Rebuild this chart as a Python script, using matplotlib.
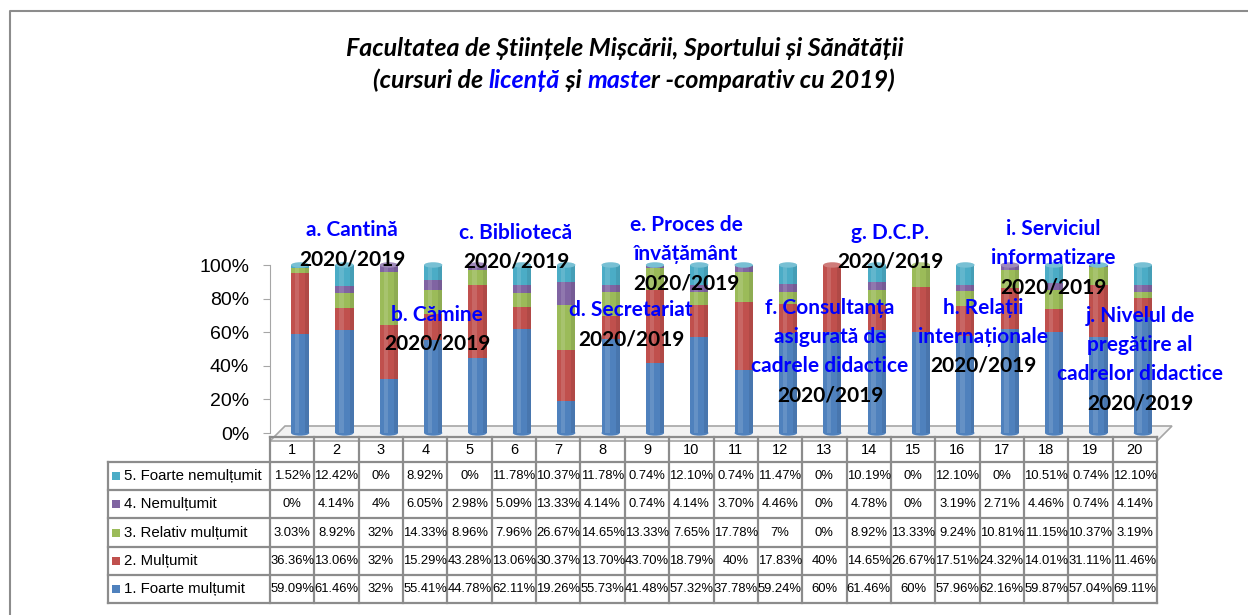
import matplotlib.pyplot as plt
from matplotlib.patches import Ellipse, Polygon, Rectangle

# values (percent)
columns = [str(i) for i in range(1, 21)]
series_names = ['5. Foarte nemulțumit', '4. Nemulțumit', '3. Relativ mulțumit',
                '2. Mulțumit', '1. Foarte mulțumit']
foarte_nemultumit = [1.52, 12.42, 0, 8.92, 0, 11.78, 10.37, 11.78, 0.74, 12.10,
                     0.74, 11.47, 0, 10.19, 0, 12.10, 0, 10.51, 0.74, 12.10]
nemultumit = [0, 4.14, 4, 6.05, 2.98, 5.09, 13.33, 4.14, 0.74, 4.14,
              3.70, 4.46, 0, 4.78, 0, 3.19, 2.71, 4.46, 0.74, 4.14]
relativ_multumit = [3.03, 8.92, 32, 14.33, 8.96, 7.96, 26.67, 14.65, 13.33, 7.65,
                    17.78, 7, 0, 8.92, 13.33, 9.24, 10.81, 11.15, 10.37, 3.19]
multumit = [36.36, 13.06, 32, 15.29, 43.28, 13.06, 30.37, 13.70, 43.70, 18.79,
            40, 17.83, 40, 14.65, 26.67, 17.51, 24.32, 14.01, 31.11, 11.46]
foarte_multumit = [59.09, 61.46, 32, 55.41, 44.78, 62.11, 19.26, 55.73, 41.48, 57.32,
                   37.78, 59.24, 60, 61.46, 60, 57.96, 62.16, 59.87, 57.04, 69.11]

y_ticks = [0, 20, 40, 60, 80, 100]

# section captions written over the bars
captions = [
    ['a. Cantină'],
    ['b. Cămine'],
    ['c. Bibliotecă'],
    ['d. Secretariat'],
    ['e. Proces de', 'învățământ'],
    ['f. Consultanța', 'asigurată de', 'cadrele didactice'],
    ['g. D.C.P.'],
    ['h. Relații', 'internaționale'],
    ['i. Serviciul', 'informatizare'],
    ['j. Nivelul de', 'pregătire al', 'cadrelor didactice'],
]
year_label = '2020/2019'

colors = ['#4BACC6', '#8064A2', '#9BBB59', '#C0504D', '#4F81BD']
values = [foarte_nemultumit, nemultumit, relativ_multumit, multumit, foarte_multumit]

plt.rcParams['font.family'] = ['Lato', 'DejaVu Sans']

W, H = 1248, 615
fig = plt.figure(figsize=(W / 100, H / 100), dpi=100)

def fx(px):
    return px / W

def fy(py):
    return 1 - py / H

# overlay in pixel coordinates for frame, floor and table
ov = fig.add_axes([0, 0, 1, 1])
ov.set_xlim(0, W)
ov.set_ylim(H, 0)
ov.axis('off')
ov.plot([10, 10, W], [H, 11, 11], color='#8c8c8c', lw=1.5)

# 3D-ish floor
left, right = 270, 1157
ov.add_patch(Polygon([(left, 441), (right, 441), (right + 15, 426), (left + 15, 426)],
                     closed=True, facecolor='#f2f2f2', edgecolor='#a6a6a6', lw=1.2))

# bar chart axes
ax = fig.add_axes([fx(left), fy(433), fx(right - left), fy(265) - fy(433)])
ax.patch.set_alpha(0)
n = len(columns)
bw = 0.41
xs = [i + 0.18 for i in range(n)]
bottoms = [0] * n
for vals, col in zip(values[::-1], colors[::-1]):
    ax.bar(xs, vals, width=bw, bottom=bottoms, color=col, edgecolor='none', clip_on=False, zorder=2)
    bottoms = [b + v for b, v in zip(bottoms, vals)]
# cylinder shading: light band left of centre, darker right edge
ax.bar([x - 0.07 for x in xs], bottoms, width=0.1, color='white', alpha=0.13,
       edgecolor='none', zorder=2.5, clip_on=False)
ax.bar([x + 0.16 for x in xs], bottoms, width=0.09, color='black', alpha=0.08,
       edgecolor='none', zorder=2.5, clip_on=False)
for i, (x, top) in enumerate(zip(xs, bottoms)):
    # cap takes the colour of the highest non-empty segment
    cap = next(c for vals, c in zip(values, colors) if vals[i] > 0)
    ax.add_patch(Ellipse((x, top), bw, 3.2, facecolor=cap, edgecolor='none', zorder=3, clip_on=False))
    ax.add_patch(Ellipse((x, top), bw, 3.2, facecolor='white', alpha=0.25, edgecolor='none', zorder=3, clip_on=False))
    ax.add_patch(Ellipse((x, 0), bw, 3.2, facecolor=colors[4], edgecolor='none', zorder=1, clip_on=False))
ax.set_xlim(-0.5, n - 0.5)
ax.set_ylim(0, 100)
ax.set_yticks(y_ticks)
ax.set_yticklabels([f'{t}%' for t in y_ticks], fontsize=14, family=['Liberation Sans'])
ax.set_xticks([])
for s in ['top', 'right', 'bottom']:
    ax.spines[s].set_visible(False)
ax.spines['left'].set_color('#a6a6a6')
ax.spines['left'].set_bounds(0, 100)
ax.tick_params(axis='y', colors='#a6a6a6', labelcolor='black', length=5, pad=10)

# data table
col_w = (right - left) / n
head_top, head_bot = 437, 462
row_h = (603 - head_bot) / len(series_names)
lab_left = 108
grid = dict(color='#8c8c8c', lw=1.6)

def fmt(v):
    return f'{int(v)}%' if v == int(v) else f'{v:.2f}%'

for i, c in enumerate(columns):
    ov.text(left + col_w * (i + 0.5), (head_top + head_bot) / 2 + 1, c,
            ha='center', va='center', fontsize=10.5, family=['Liberation Sans'])
for r, (name, vals, col) in enumerate(zip(series_names, values, colors)):
    yc = head_bot + row_h * (r + 0.5)
    ov.add_patch(Rectangle((112, yc - 4), 8, 8, facecolor=col, edgecolor='none'))
    ov.text(124, yc, name, ha='left', va='center', fontsize=10.8, family=['Liberation Sans'])
    for i, v in enumerate(vals):
        ov.text(left + col_w * (i + 0.5), yc, fmt(v), ha='center', va='center',
                fontsize=9.4, family=['Liberation Sans'])
# grid lines
for i in range(n + 1):
    ov.plot([left + col_w * i] * 2, [head_top, 603], **grid)
ov.plot([lab_left, lab_left], [head_bot, 603], **grid)
ov.plot([left, right], [head_top, head_top], **grid)
for r in range(len(series_names) + 1):
    ov.plot([lab_left, right], [head_bot + row_h * r] * 2, **grid)

# captions
spots = [(352, 230), (437, 315), (516, 233), (631, 310), (686, 225),
         (830, 308), (890, 233), (983, 308), (1053, 229), (1140, 316)]
blue = '#0000FF'
for lines, (cx, cy) in zip(captions, spots):
    for k, line in enumerate(lines + [year_label]):
        fig.text(fx(cx), fy(cy + 29 * k), line, ha='center', va='center',
                 fontsize=15, fontweight='bold',
                 color='black' if line == year_label else blue, zorder=10)

# title, second line has coloured words
fig.text(fx(625), fy(48), 'Facultatea de Științele Mișcării, Sportului și Sănătății',
         ha='center', va='center', fontsize=18, fontweight='bold', style='italic')
parts = [('(cursuri de ', 'black'), ('licență', blue), (' și ', 'black'),
         ('maste', blue), ('r -comparativ cu 2019)', 'black')]
rend = fig.canvas.get_renderer()
texts = []
total = 0
for s, c in parts:
    t = fig.text(0, fy(80), s, ha='left', va='center', fontsize=18,
                 fontweight='bold', style='italic', color=c)
    w = t.get_window_extent(rend).width
    texts.append((t, w))
    total += w
x0 = 634 - total / 2
for t, w in texts:
    t.set_x(fx(x0))
    x0 += w

fig.savefig('out.png', dpi=100, facecolor='white')
